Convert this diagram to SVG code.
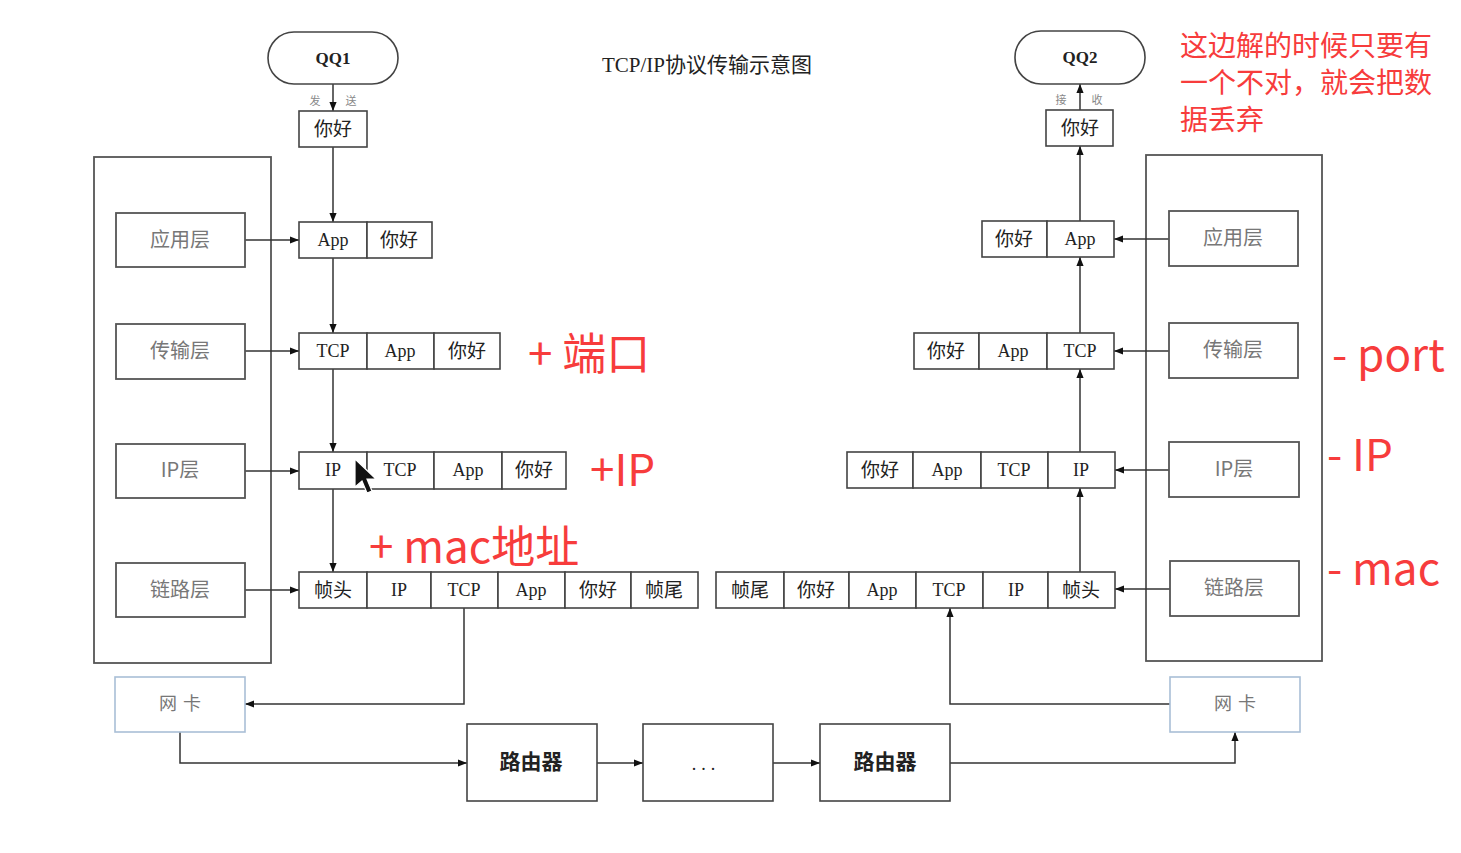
<svg xmlns="http://www.w3.org/2000/svg" width="1461" height="853" viewBox="0 0 1461 853">
<style>
.bg{fill:#fff}
.cell{fill:#fff;stroke:#444;stroke-width:1.6}
.layer{fill:#fff;stroke:#555;stroke-width:1.8}
.nic{fill:#fff;stroke:#a9bfd6;stroke-width:1.6}
.big{fill:none;stroke:#555;stroke-width:1.8}
.term{fill:#fff;stroke:#444;stroke-width:1.6}
.ln{fill:none;stroke:#333;stroke-width:1.5}
.ct{font-family:"Liberation Serif","Noto Sans CJK SC",serif;font-size:18px;fill:#222;text-anchor:middle;dominant-baseline:central}
.cj{font-family:"Noto Sans CJK SC",sans-serif;font-size:19px;fill:#222;text-anchor:middle;dominant-baseline:central}
.lt{font-family:"Noto Sans CJK SC",sans-serif;font-size:20px;fill:#777;text-anchor:middle;dominant-baseline:central}
.sm{font-family:"Noto Sans CJK SC",sans-serif;font-size:11px;fill:#888;text-anchor:middle;dominant-baseline:central}
.qq{font-family:"Liberation Serif",serif;font-size:17px;font-weight:bold;fill:#222;text-anchor:middle;dominant-baseline:central}
.rt{font-family:"Noto Sans CJK SC",sans-serif;font-size:21px;font-weight:bold;fill:#222;text-anchor:middle;dominant-baseline:central}
.red{font-family:"Noto Sans CJK SC",sans-serif;fill:#f73c3c}
</style>
<defs>
<marker id="arr" viewBox="0 0 10 10" refX="10" refY="5" markerWidth="9" markerHeight="9" markerUnits="userSpaceOnUse" orient="auto">
<path d="M0,1 L10,5 L0,9 z" fill="#111"/>
</marker>
</defs>
<rect class="bg" x="0" y="0" width="1461" height="853"/>

<text x="707" y="65" class="ct" style="font-size:21px">TCP/IP协议传输示意图</text>

<g id="stack-left">
<rect class="big" x="94" y="157" width="177" height="506"/>
</g>
<g id="stack-right">
<rect class="big" x="1146" y="155" width="176" height="506"/>
</g>

<g id="connectors">
<path class="ln" d="M333,84 V111" marker-end="url(#arr)"/>
<path class="ln" d="M333,147 V222" marker-end="url(#arr)"/>
<path class="ln" d="M333,258 V333" marker-end="url(#arr)"/>
<path class="ln" d="M333,369 V452" marker-end="url(#arr)"/>
<path class="ln" d="M333,489 V572" marker-end="url(#arr)"/>
<path class="ln" d="M245,240 H299" marker-end="url(#arr)"/>
<path class="ln" d="M245,351 H299" marker-end="url(#arr)"/>
<path class="ln" d="M245,471 H299" marker-end="url(#arr)"/>
<path class="ln" d="M245,590 H299" marker-end="url(#arr)"/>
<path class="ln" d="M1080,572 V488" marker-end="url(#arr)"/>
<path class="ln" d="M1080,452 V369" marker-end="url(#arr)"/>
<path class="ln" d="M1080,333 V257" marker-end="url(#arr)"/>
<path class="ln" d="M1080,221 V146" marker-end="url(#arr)"/>
<path class="ln" d="M1080,110 V84" marker-end="url(#arr)"/>
<path class="ln" d="M1169,239 H1114" marker-end="url(#arr)"/>
<path class="ln" d="M1169,351 H1114" marker-end="url(#arr)"/>
<path class="ln" d="M1169,470 H1115" marker-end="url(#arr)"/>
<path class="ln" d="M1170,589 H1115" marker-end="url(#arr)"/>
<path class="ln" d="M464,608 V704 H245" marker-end="url(#arr)"/>
<path class="ln" d="M180,732 V763 H467" marker-end="url(#arr)"/>
<path class="ln" d="M597,763 H643" marker-end="url(#arr)"/>
<path class="ln" d="M773,763 H820" marker-end="url(#arr)"/>
<path class="ln" d="M950,763 H1235 V732" marker-end="url(#arr)"/>
<path class="ln" d="M1170,704 H950 V608" marker-end="url(#arr)"/>
</g>

<g id="qq1">
<rect class="term" x="268" y="32" width="130" height="52" rx="26"/>
<text x="333" y="58" class="qq">QQ1</text>
<text x="315" y="100" class="sm">发</text>
<text x="351" y="100" class="sm">送</text>
</g>
<g id="msg1">
<rect class="cell" x="299" y="111" width="68" height="36"/>
<text x="333" y="127" class="cj">你好</text>
</g>
<g id="qq2">
<rect class="term" x="1015" y="31" width="130" height="53" rx="26"/>
<text x="1080" y="57" class="qq">QQ2</text>
<text x="1061" y="99" class="sm">接</text>
<text x="1097" y="99" class="sm">收</text>
</g>
<g id="msg2">
<rect class="cell" x="1046" y="110" width="67" height="36"/>
<text x="1080" y="126" class="cj">你好</text>
</g>

<g id="layers-left">
<rect class="layer" x="116" y="213" width="129" height="54"/><text x="180" y="238" class="lt">应用层</text>
<rect class="layer" x="116" y="324" width="129" height="55"/><text x="180" y="349" class="lt">传输层</text>
<rect class="layer" x="116" y="444" width="129" height="54"/><text x="180" y="468" class="lt">IP层</text>
<rect class="layer" x="116" y="563" width="129" height="54"/><text x="180" y="588" class="lt">链路层</text>
</g>
<g id="layers-right">
<rect class="layer" x="1169" y="211" width="129" height="55"/><text x="1233" y="236" class="lt">应用层</text>
<rect class="layer" x="1169" y="323" width="129" height="55"/><text x="1233" y="348" class="lt">传输层</text>
<rect class="layer" x="1169" y="442" width="130" height="55"/><text x="1234" y="467" class="lt">IP层</text>
<rect class="layer" x="1170" y="561" width="129" height="55"/><text x="1234" y="586" class="lt">链路层</text>
</g>

<g id="row-app-left">
<rect class="cell" x="299" y="222" width="68" height="36"/><text x="333" y="240" class="ct">App</text>
<rect class="cell" x="367" y="222" width="65" height="36"/><text x="399" y="238" class="cj">你好</text>
</g>
<g id="row-tcp-left">
<rect class="cell" x="299" y="333" width="68" height="36"/><text x="333" y="351" class="ct">TCP</text>
<rect class="cell" x="367" y="333" width="67" height="36"/><text x="400" y="351" class="ct">App</text>
<rect class="cell" x="434" y="333" width="66" height="36"/><text x="467" y="349" class="cj">你好</text>
</g>
<g id="row-ip-left">
<rect class="cell" x="299" y="452" width="68" height="37"/><text x="333" y="470" class="ct">IP</text>
<rect class="cell" x="367" y="452" width="67" height="37"/><text x="400" y="470" class="ct">TCP</text>
<rect class="cell" x="434" y="452" width="68" height="37"/><text x="468" y="470" class="ct">App</text>
<rect class="cell" x="502" y="452" width="64" height="37"/><text x="534" y="468" class="cj">你好</text>
</g>
<g id="row-link-left">
<rect class="cell" x="299" y="572" width="68" height="36"/><text x="333" y="588" class="cj">帧头</text>
<rect class="cell" x="367" y="572" width="64" height="36"/><text x="399" y="590" class="ct">IP</text>
<rect class="cell" x="431" y="572" width="67" height="36"/><text x="464" y="590" class="ct">TCP</text>
<rect class="cell" x="498" y="572" width="67" height="36"/><text x="531" y="590" class="ct">App</text>
<rect class="cell" x="565" y="572" width="66" height="36"/><text x="598" y="588" class="cj">你好</text>
<rect class="cell" x="631" y="572" width="67" height="36"/><text x="664" y="588" class="cj">帧尾</text>
</g>

<g id="row-app-right">
<rect class="cell" x="982" y="221" width="65" height="36"/><text x="1014" y="237" class="cj">你好</text>
<rect class="cell" x="1047" y="221" width="67" height="36"/><text x="1080" y="239" class="ct">App</text>
</g>
<g id="row-tcp-right">
<rect class="cell" x="914" y="333" width="65" height="36"/><text x="946" y="349" class="cj">你好</text>
<rect class="cell" x="979" y="333" width="68" height="36"/><text x="1013" y="351" class="ct">App</text>
<rect class="cell" x="1047" y="333" width="67" height="36"/><text x="1080" y="351" class="ct">TCP</text>
</g>
<g id="row-ip-right">
<rect class="cell" x="847" y="452" width="66" height="36"/><text x="880" y="468" class="cj">你好</text>
<rect class="cell" x="913" y="452" width="68" height="36"/><text x="947" y="470" class="ct">App</text>
<rect class="cell" x="981" y="452" width="67" height="36"/><text x="1014" y="470" class="ct">TCP</text>
<rect class="cell" x="1048" y="452" width="67" height="36"/><text x="1081" y="470" class="ct">IP</text>
</g>
<g id="row-link-right">
<rect class="cell" x="716" y="572" width="68" height="36"/><text x="750" y="588" class="cj">帧尾</text>
<rect class="cell" x="784" y="572" width="65" height="36"/><text x="816" y="588" class="cj">你好</text>
<rect class="cell" x="849" y="572" width="67" height="36"/><text x="882" y="590" class="ct">App</text>
<rect class="cell" x="916" y="572" width="67" height="36"/><text x="949" y="590" class="ct">TCP</text>
<rect class="cell" x="983" y="572" width="65" height="36"/><text x="1016" y="590" class="ct">IP</text>
<rect class="cell" x="1048" y="572" width="67" height="36"/><text x="1081" y="588" class="cj">帧头</text>
</g>

<g id="nic-left">
<rect class="nic" x="115" y="677" width="130" height="55"/>
<text x="183" y="702" class="lt" style="font-size:18px;letter-spacing:6px">网卡</text>
</g>
<g id="nic-right">
<rect class="nic" x="1170" y="677" width="130" height="55"/>
<text x="1238" y="702" class="lt" style="font-size:18px;letter-spacing:6px">网卡</text>
</g>
<g id="router1">
<rect class="cell" x="467" y="724" width="130" height="77"/>
<text x="531" y="760" class="rt">路由器</text>
</g>
<g id="dots">
<rect class="cell" x="643" y="724" width="130" height="77"/>
<text x="706" y="764" class="ct" style="letter-spacing:5px">...</text>
</g>
<g id="router2">
<rect class="cell" x="820" y="724" width="130" height="77"/>
<text x="885" y="760" class="rt">路由器</text>
</g>

<g id="cursor">
<polygon points="355,459 355,487 362,481 367,493 372,491 367,479 376,479" fill="#111" stroke="#fff" stroke-width="1.2"/>
</g>

<g id="annotations">
<text x="1180" y="56" class="red" font-size="28">这边解的时候只要有</text>
<text x="1180" y="93" class="red" font-size="28">一个不对，就会把数</text>
<text x="1180" y="130" class="red" font-size="28">据丢弃</text>
<text x="528" y="370" class="red" font-size="44">+ 端口</text>
<text x="590" y="486" class="red" font-size="44">+IP</text>
<text x="369" y="563" class="red" font-size="44">+ mac地址</text>
<text x="1332" y="371" class="red" font-size="44">- port</text>
<text x="1327" y="471" class="red" font-size="44">- IP</text>
<text x="1327" y="585" class="red" font-size="44">- mac</text>
</g>
</svg>
